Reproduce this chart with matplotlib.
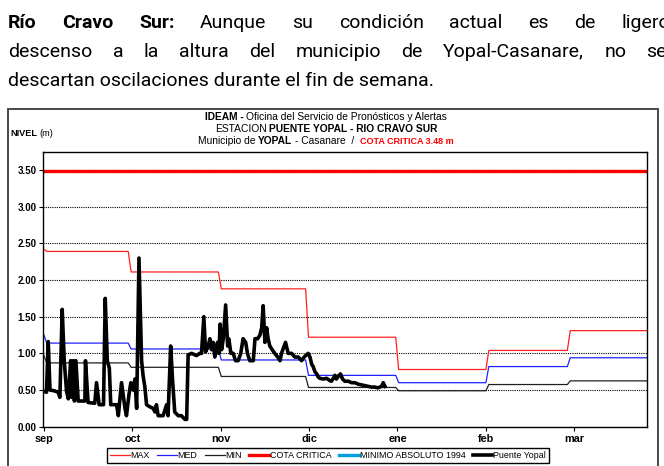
import matplotlib
matplotlib.use("Agg")
import matplotlib.pyplot as plt
import numpy as np
from matplotlib.patches import Rectangle

W, H = 664, 466

# ---------------------------------------------------------------------------
# Data
# ---------------------------------------------------------------------------
# Puente Yopal stage readings: day counted from 1 Sep, level in m
YOPAL_DAY = [
    0.0, 0.9, 1.5, 2.1, 3.5, 4.9, 5.5, 6.3, 7.0, 7.8, 8.4, 9.2, 9.6, 10.1,
    10.5, 11.0, 11.8, 13.0, 14.1, 14.3, 15.2, 17.5, 18.1, 19.0, 20.5, 21.1,
    21.8, 22.5, 23.0, 25.0, 25.6, 26.7, 27.9, 28.4, 29.3, 29.9, 30.7, 31.3,
    31.9, 32.7, 33.6, 34.1, 34.7, 35.3, 36.5, 37.6, 38.2, 38.7, 39.3, 41.0,
    42.2, 42.7, 43.6, 44.3, 45.0, 46.2, 47.3, 48.5, 49.1, 49.6, 50.8, 52.5,
    53.6, 54.2, 55.0, 55.6, 56.5, 57.1, 57.7, 58.2, 58.8, 59.7, 60.2, 60.6,
    61.1, 61.7, 62.5, 63.2, 63.6, 64.3, 65.1, 65.9, 66.8, 67.7, 68.5, 69.4,
    70.0, 70.8, 72.0, 72.6, 73.5, 74.3, 74.9, 75.4, 76.0, 76.6, 77.1, 77.7,
    78.5, 79.4, 80.4, 81.2, 81.7, 83.1, 84.0, 85.2, 86.3, 87.5, 88.6, 89.5,
    90.3, 90.9, 91.5, 92.1, 92.6, 93.2, 93.8, 94.3, 94.9, 96.1, 97.2, 98.3,
    98.9, 99.5, 100.1, 100.6, 101.5, 102.0, 102.7, 103.5, 104.7, 105.8,
    106.9, 108.1, 109.2, 110.4, 111.5, 112.7, 113.8, 114.9, 116.1, 116.7,
    117.3,
]
YOPAL_LEVEL = [
    0.48, 0.47, 1.16, 0.50, 0.49, 0.47, 0.40, 1.60, 0.90, 0.48, 0.38, 0.90,
    0.40, 0.90, 0.35, 0.90, 0.35, 0.35, 0.35, 0.90, 0.33, 0.32, 0.60, 0.30,
    0.30, 1.75, 0.90, 0.80, 0.30, 0.30, 0.15, 0.60, 0.25, 0.15, 0.45, 0.60,
    0.50, 0.65, 0.25, 2.30, 0.90, 0.70, 0.55, 0.30, 0.27, 0.25, 0.20, 0.30,
    0.15, 0.15, 0.30, 0.15, 1.10, 0.60, 0.20, 0.15, 0.15, 0.10, 0.10, 0.98,
    1.00, 0.97, 1.00, 1.00, 1.50, 1.02, 1.10, 1.20, 1.05, 1.15, 0.95, 1.15,
    1.00, 1.40, 1.05, 1.20, 1.66, 1.10, 1.20, 1.00, 1.00, 0.90, 0.90, 1.00,
    1.20, 1.15, 1.00, 0.90, 0.90, 1.20, 1.20, 1.25, 1.35, 1.65, 1.15, 1.35,
    1.20, 1.10, 1.05, 1.00, 0.95, 0.90, 1.00, 1.15, 1.00, 1.00, 0.95, 0.95,
    0.90, 0.95, 0.98, 1.00, 0.95, 0.85, 0.82, 0.75, 0.72, 0.68, 0.66, 0.65,
    0.66, 0.63, 0.62, 0.66, 0.70, 0.65, 0.70, 0.72, 0.65, 0.62, 0.62, 0.60,
    0.60, 0.58, 0.57, 0.56, 0.55, 0.54, 0.54, 0.53, 0.55, 0.60, 0.55,
]

MONTH_LABELS = ["sep", "oct", "nov", "dic", "ene", "feb", "mar"]
MONTH_START = [0, 30, 61, 91, 122, 153, 181]
LAST_DAY = 208

# historical monthly levels (m)
MAX_LEVEL = [2.39, 2.11, 1.88, 1.22, 0.78, 1.04, 1.31]
MED_LEVEL = [1.14, 1.06, 0.91, 0.70, 0.60, 0.82, 0.94]
MIN_LEVEL = [0.87, 0.81, 0.685, 0.535, 0.49, 0.575, 0.625]
# value of each series on 1 Sep
MAX_FIRST, MED_FIRST, MIN_FIRST = 2.42, 1.25, 0.97
COTA_CRITICA = 3.48

# ---------------------------------------------------------------------------
# Helpers
# ---------------------------------------------------------------------------

def monthly_steps(levels, first):
    xs, ys = [0], [first]
    ends = MONTH_START[1:] + [LAST_DAY + 1]
    for start, end, v in zip(MONTH_START, ends, levels):
        xs += [max(start, 1), end - 1]
        ys += [v, v]
    return xs, ys


def text_width(fig, renderer, s, **kw):
    t = fig.text(0, 0, s, **kw)
    w = t.get_window_extent(renderer).width
    t.remove()
    return w


def space_width(fig, renderer, **kw):
    return text_width(fig, renderer, "x x", **kw) - text_width(fig, renderer, "xx", **kw)


def justified_line(fig, renderer, words, y, left, right):
    widths = [text_width(fig, renderer, w, **p) for w, p in words]
    gap = (right - left - sum(widths)) / (len(words) - 1)
    x = left
    for (w, p), wd in zip(words, widths):
        fig.text(x / W, 1 - y / H, w, va="baseline", ha="left", **p)
        x += wd + gap


def runs_line(fig, renderer, runs, y, x, align="center"):
    # runs: (text, props, spaces after)
    widths = [text_width(fig, renderer, s, **p) for s, p, _ in runs]
    spaces = [space_width(fig, renderer, **p) * n for _, p, n in runs]
    total = sum(widths) + sum(spaces[:-1])
    if align == "center":
        x = x - total / 2
    for (s, p, _), wd, sp in zip(runs, widths, spaces):
        fig.text(x / W, 1 - y / H, s, va="baseline", ha="left", **p)
        x += wd + sp


# ---------------------------------------------------------------------------
# Figure
# ---------------------------------------------------------------------------
fig = plt.figure(figsize=(W / 100, H / 100), dpi=100)
renderer = fig.canvas.get_renderer()

# heading paragraph
PARA = dict(family=["Roboto", "Liberation Sans", "DejaVu Sans"], fontsize=14.0)
BOLD = dict(PARA, weight="bold")
line1 = [("Río", BOLD), ("Cravo", BOLD), ("Sur:", BOLD)] + [
    (w, PARA) for w in "Aunque su condición actual es de ligero".split()]
line2 = [(w, PARA) for w in
         "descenso a la altura del municipio de Yopal-Casanare, no se".split()]
justified_line(fig, renderer, line1, 28, 8, 670)
justified_line(fig, renderer, line2, 57, 8, 667)
fig.text(8 / W, 1 - 86 / H, "descartan oscilaciones durante el fin de semana.",
         va="baseline", ha="left", **PARA)

# chart frame
fig.patches.append(Rectangle((8 / W, -0.05), 650 / W, 1.05 - 108.5 / H,
                             transform=fig.transFigure, fill=False,
                             edgecolor="#3a3a3a", lw=1.3))

# chart heading
F = ["Liberation Sans", "DejaVu Sans"]
reg = dict(family=F, fontsize=7.4)
bld = dict(family=F, fontsize=7.4, weight="bold")
red = dict(family=F, fontsize=6.5, weight="bold", color="#ff0000")
runs_line(fig, renderer, [("IDEAM -", bld, 1),
                          ("Oficina del Servicio de Pronósticos y Alertas", reg, 0)],
          120, 326)
runs_line(fig, renderer, [("ESTACION", reg, 0.6),
                          ("PUENTE YOPAL - RIO CRAVO SUR", bld, 0)], 132, 326)
runs_line(fig, renderer, [("Municipio de", reg, 1), ("YOPAL", bld, 1),
                          ("- Casanare  /", reg, 2), ("COTA CRITICA 3.48 m", red, 0)],
          144, 326)
runs_line(fig, renderer, [("NIVEL", dict(family=F, fontsize=6.6, weight="bold"), 1),
                          ("(m)", dict(family=F, fontsize=6.6), 0)], 136, 10,
          align="left")

ax = fig.add_axes([43.3 / W, 1 - 426.7 / H, 604 / W, 275 / H])

days = np.array(YOPAL_DAY)
level = np.array(YOPAL_LEVEL)

x, y = monthly_steps(MAX_LEVEL, MAX_FIRST)
ax.plot(x, y, color="#ff2020", lw=0.9, label="MAX")
x, y = monthly_steps(MED_LEVEL, MED_FIRST)
ax.plot(x, y, color="#2020ff", lw=0.9, label="MED")
x, y = monthly_steps(MIN_LEVEL, MIN_FIRST)
ax.plot(x, y, color="#202020", lw=0.9, label="MIN")
ax.plot([0, LAST_DAY], [COTA_CRITICA, COTA_CRITICA], color="#ff0000", lw=2.4,
        label="COTA CRITICA")
ax.plot([], [], color="#00a0e0", lw=2.4, label="MINIMO ABSOLUTO 1994")
ax.plot(days, level, color="black", lw=2.6, solid_joinstyle="round",
        label="Puente Yopal")

ax.set_xlim(-0.2, 207.5)
ax.set_ylim(0, 3.75)
ax.set_yticks(np.arange(0, 3.51, 0.5))
ax.set_yticklabels([f"{v:.2f}" for v in np.arange(0, 3.51, 0.5)])
ax.set_xticks(np.arange(len(MONTH_LABELS)) * 30.4)
ax.set_xticklabels(MONTH_LABELS)
ax.yaxis.grid(True, color="black", ls=(0, (1, 1)), lw=0.8)
ax.set_axisbelow(True)
ax.tick_params(axis="both", direction="out", length=3, width=0.8, pad=2)
ax.tick_params(axis="y", labelsize=7)
ax.tick_params(axis="x", labelsize=7.8)
for lab in ax.get_xticklabels() + ax.get_yticklabels():
    lab.set_fontweight("bold")
    lab.set_family(F)
for s in ax.spines.values():
    s.set_linewidth(1.0)

handles, labels = ax.get_legend_handles_labels()
leg = fig.legend(handles, labels, loc="center", ncol=6,
                 bbox_to_anchor=(328 / W, 1 - 455.5 / H), frameon=True,
                 fancybox=False, edgecolor="black", framealpha=1,
                 prop=dict(family=F, size=6.4), handlelength=2.2,
                 handletextpad=0.1, columnspacing=0.85, borderpad=0.3)
leg.get_frame().set_linewidth(1.0)

fig.savefig("out.png", dpi=100)
